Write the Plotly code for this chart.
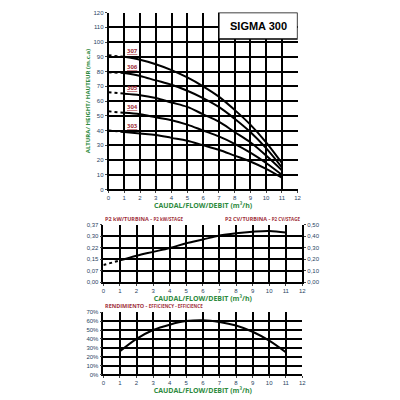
import plotly.graph_objects as go

q = [1, 2, 3, 4, 5, 6, 7, 8, 9, 10, 11]
heads = {
    "307": [90, 88, 85, 81, 76, 70, 63, 54, 44, 32, 18],
    "306": [79, 77, 74, 71, 67, 62, 56, 48, 39, 28, 15],
    "305": [65, 64, 62, 59, 56, 51, 46, 39, 32, 23, 13],
    "304": [52, 51, 49, 47, 44, 40, 36, 31, 25, 18, 10],
    "303": [39, 38, 37, 35, 33, 30, 27, 23, 19, 14, 8],
}
head0 = {"307": 91, "306": 79.5, "305": 66, "304": 53, "303": 40}
power = [0.14, 0.17, 0.195, 0.22, 0.25, 0.275, 0.30, 0.315, 0.325, 0.33, 0.32]
power0 = 0.11
eff = [26, 40, 50, 56, 60, 61, 59, 55, 48, 38, 25]
label_y = {"307": 94, "306": 83, "305": 69, "304": 56, "303": 43}

GREEN = "#2e8b3e"
RED = "#a0303a"
fig = go.Figure()
dash = dict(color="black", width=2, dash="dot")
curve = dict(color="black", width=2, shape="spline")
for k, v in heads.items():
    fig.add_trace(go.Scatter(x=[0, 1], y=[head0[k], v[0]], mode="lines", line=dash, xaxis="x", yaxis="y"))
    fig.add_trace(go.Scatter(x=q, y=v, mode="lines", line=curve, xaxis="x", yaxis="y"))
    fig.add_annotation(x=1.5, y=label_y[k], text="<b><u>%s</u></b>" % k, showarrow=False,
                       font=dict(size=6, color=RED), xref="x", yref="y")
fig.add_trace(go.Scatter(x=[0, 1], y=[power0, power[0]], mode="lines", line=dash, xaxis="x2", yaxis="y2"))
fig.add_trace(go.Scatter(x=q, y=power, mode="lines", line=curve, xaxis="x2", yaxis="y2"))
fig.add_trace(go.Scatter(x=q, y=eff, mode="lines", line=curve, xaxis="x3", yaxis="y4"))

gx = dict(showgrid=True, gridcolor="black", gridwidth=1.5, showline=True, linecolor="black", linewidth=1.5,
          zeroline=False, range=[0, 12], dtick=1, ticks="outside", ticklen=2, tickfont=dict(size=6, family="Arial"))
gy = dict(showgrid=True, gridcolor="black", gridwidth=1.5, showline=True, linecolor="black", linewidth=1.5,
          zeroline=False, ticks="outside", ticklen=2, tickfont=dict(size=6, family="Arial"))
xt = dict(text="<b>CAUDAL/FLOW/DEBIT (m³/h)</b>", font=dict(size=7, color=GREEN), standoff=0)

fig.update_layout(
    width=400, height=400, margin=dict(l=0, r=0, t=0, b=0), showlegend=False,
    plot_bgcolor="white", paper_bgcolor="white",
    xaxis=dict(gx, domain=[0.25, 0.73], anchor="y", title=xt),
    yaxis=dict(gy, domain=[0.547, 0.996], range=[0, 120], dtick=10, anchor="x",
               title=dict(text="<b>ALTURA/ HEIGHT/ HAUTEUR (m.c.a)</b>", font=dict(size=6, color=GREEN), standoff=2)),
    xaxis2=dict(gx, domain=[0.237, 0.742], anchor="y2", title=xt),
    yaxis2=dict(gy, domain=[0.312, 0.4575], range=[0, 0.37], tickvals=[0, 0.074, 0.148, 0.222, 0.296, 0.37],
                ticktext=["0,00", "0,07", "0,15", "0,22", "0,30", "0,37"], anchor="x2"),
    yaxis3=dict(gy, domain=[0.312, 0.4575], range=[0, 0.5], tickvals=[0, 0.1, 0.2, 0.3, 0.4, 0.5],
                ticktext=["0,00", "0,10", "0,20", "0,30", "0,40", "0,50"], overlaying="y2", side="right",
                anchor="x2", showgrid=False),
    xaxis3=dict(gx, domain=[0.237, 0.742], anchor="y4", title=xt),
    yaxis4=dict(gy, domain=[0.0775, 0.2355], range=[0, 70], dtick=10, ticksuffix="%", anchor="x3"),
)
fig.add_trace(go.Scatter(x=[0], y=[0], mode="markers", marker=dict(opacity=0), xaxis="x2", yaxis="y3", hoverinfo="skip"))
fig.add_shape(type="rect", xref="x", yref="y", x0=7, x1=12, y0=102, y1=120, fillcolor="white",
              line=dict(color="black", width=1.5), layer="above")
fig.add_annotation(x=9.5, y=111, xref="x", yref="y", text="<b>SIGMA 300</b>", showarrow=False,
                   font=dict(size=11, color="black", family="Arial"))
hdr = dict(xref="paper", yref="paper", yanchor="bottom", showarrow=False, font=dict(size=5.5, color=RED), yshift=0)
fig.add_annotation(x=0.237, y=0.4575, xanchor="left",
                   text="<b>P2 kW/TURBINA - <span style='font-size:4.5px'>P2 kW/STAGE</span></b>", **hdr)
fig.add_annotation(x=0.742, y=0.4575, xanchor="right",
                   text="<b>P2 CV/TURBINA - <span style='font-size:4.5px'>P2 CV/STAGE</span></b>", **hdr)
fig.add_annotation(x=0.237, y=0.2355, xanchor="left",
                   text="<b>RENDIMIENTO - <span style='font-size:4.5px'>EFFICIENCY - EFFICIENCE</span></b>", **hdr)
fig.write_html("out.html")
